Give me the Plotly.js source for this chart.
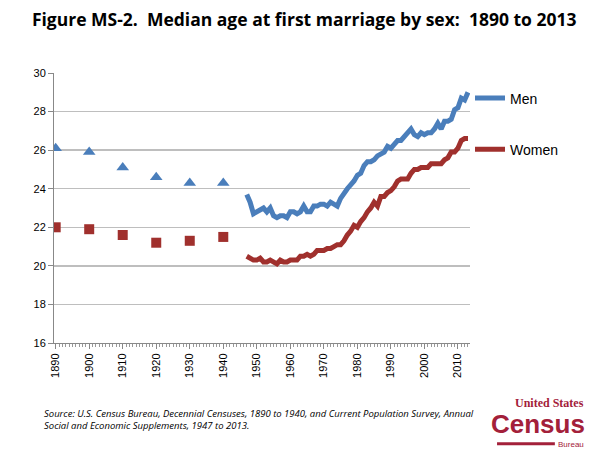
<!DOCTYPE html>
<html>
<head>
<meta charset="utf-8">
<script src="https://cdn.plot.ly/plotly-3.0.1.min.js"></script>
<style>
html,body{margin:0;padding:0;background:#fff;}
#chart{width:600px;height:451px;}
</style>
</head>
<body>
<div id="chart"></div>
<script>
// Decennial census points
const censusYears = [1890, 1900, 1910, 1920, 1930, 1940];
const censusMen   = [26.1, 25.9, 25.1, 24.6, 24.3, 24.3];
const censusWomen = [22.0, 21.9, 21.6, 21.2, 21.3, 21.5];

// CPS annual series 1947-2013
const cpsYears = [1947,1948,1949,1950,1951,1952,1953,1954,1955,1956,1957,1958,1959,
  1960,1961,1962,1963,1964,1965,1966,1967,1968,1969,1970,1971,1972,1973,1974,1975,1976,
  1977,1978,1979,1980,1981,1982,1983,1984,1985,1986,1987,1988,1989,1990,1991,1992,1993,
  1994,1995,1996,1997,1998,1999,2000,2001,2002,2003,2004,2005,2006,2007,2008,2009,2010,
  2011,2012,2013];
const cpsMen = [23.7,23.3,22.7,22.8,22.9,23.0,22.8,23.0,22.6,22.5,22.6,22.6,22.5,
  22.8,22.8,22.7,22.8,23.1,22.8,22.8,23.1,23.1,23.2,23.2,23.1,23.3,23.2,23.1,23.5,23.8,
  24.0,24.2,24.4,24.7,24.8,25.2,25.4,25.4,25.5,25.7,25.8,25.9,26.2,26.1,26.3,26.5,26.5,
  26.7,26.9,27.1,26.8,26.7,26.9,26.8,26.9,26.9,27.1,27.4,27.1,27.5,27.5,27.6,28.1,28.2,
  28.7,28.6,29.0];
const cpsWomen = [20.5,20.4,20.3,20.3,20.4,20.2,20.2,20.3,20.2,20.1,20.3,20.2,20.2,
  20.3,20.3,20.3,20.5,20.5,20.6,20.5,20.6,20.8,20.8,20.8,20.9,20.9,21.0,21.1,21.1,21.3,
  21.6,21.8,22.1,22.0,22.3,22.5,22.8,23.0,23.3,23.1,23.6,23.6,23.8,23.9,24.1,24.4,24.5,
  24.5,24.5,24.8,25.0,25.0,25.1,25.1,25.1,25.3,25.3,25.3,25.3,25.5,25.6,25.9,25.9,26.1,
  26.5,26.6,26.6];

const xTickVals = [1890,1900,1910,1920,1930,1940,1950,1960,1970,1980,1990,2000,2010];
const xTickText = xTickVals.map(String);
const yTickVals = [16,18,20,22,24,26,28,30];

const blue = '#4A7EBB';
const red = '#A0302D';
const censusRed = '#A3203A';

const traces = [
  {x: cpsYears, y: cpsMen, type: 'scatter', mode: 'lines', name: 'Men',
   line: {color: blue, width: 5}, legendgroup: 'm'},
  {x: cpsYears, y: cpsWomen, type: 'scatter', mode: 'lines', name: 'Women',
   line: {color: red, width: 5}, legendgroup: 'w'},
  {x: censusYears, y: censusMen, type: 'scatter', mode: 'markers', showlegend: false,
   marker: {symbol: 'triangle-up', color: blue, size: 11}},
  {x: censusYears, y: censusWomen, type: 'scatter', mode: 'markers', showlegend: false,
   marker: {symbol: 'square', color: red, size: 10}}
];

const layout = {
  width: 600, height: 451,
  margin: {l: 54, r: 130, t: 73, b: 108},
  paper_bgcolor: '#fff', plot_bgcolor: '#fff',
  font: {family: 'Liberation Sans, Arial, sans-serif', color: '#000'},
  title: {text: '<b>Figure MS-2.  Median age at first marriage by sex:  1890 to 2013</b>',
          font: {family: 'Open Sans, sans-serif', size: 17.5, color: '#000'},
          x: 0.507, xref: 'container', xanchor: 'center', y: 0.955, yanchor: 'middle'},
  xaxis: {range: [1889.5, 2013.6], tickvals: xTickVals, ticktext: xTickText,
          tickangle: -90, ticks: 'outside', ticklen: 5, tickcolor: '#888',
          showgrid: false, showline: true, linecolor: '#888', linewidth: 1,
          zeroline: false, tickfont: {size: 11, color: '#000'},
          minor: {dtick: 1, tick0: 1890, ticks: 'outside', ticklen: 3, tickcolor: '#999', showgrid: false}},
  yaxis: {range: [16, 30], tickvals: yTickVals, ticks: 'outside', ticklen: 5, tickcolor: '#888',
          showgrid: true, gridcolor: '#BEBEBE', gridwidth: 1.5, showline: true,
          linecolor: '#888', linewidth: 1, zeroline: false, tickfont: {size: 11, color: '#000'}},
  showlegend: true,
  legend: {x: 1.0, xanchor: 'left', y: 0.965, yanchor: 'top', tracegroupgap: 30,
           font: {size: 14, color: '#000'}, bgcolor: 'rgba(0,0,0,0)', itemwidth: 30},
  annotations: [
    {xref: 'paper', yref: 'paper', x: -0.028, y: -0.228, xanchor: 'left', yanchor: 'top',
     align: 'left', showarrow: false,
     text: '<i>Source: U.S. Census Bureau, Decennial Censuses, 1890 to 1940, and Current Population Survey, Annual<br>Social and Economic Supplements, 1947 to 2013.</i>',
     font: {family: 'Open Sans, sans-serif', size: 9.5, color: '#000'}},
    {xref: 'paper', yref: 'paper', x: 1.28, y: -0.19, xanchor: 'right', yanchor: 'top', showarrow: false,
     text: '<b>United States</b>', font: {family: 'Liberation Serif, serif', size: 12, color: censusRed}},
    {xref: 'paper', yref: 'paper', x: 1.282, y: -0.238, xanchor: 'right', yanchor: 'top', showarrow: false,
     text: '<b>Census</b>', font: {family: 'Liberation Sans, sans-serif', size: 26, color: censusRed}},
    {xref: 'paper', yref: 'paper', x: 1.278, y: -0.352, xanchor: 'right', yanchor: 'top', showarrow: false,
     text: 'Bureau', font: {family: 'Liberation Sans, sans-serif', size: 8, color: censusRed}}
  ],
  shapes: [
    {type: 'line', xref: 'paper', yref: 'paper', x0: 1.065, x1: 1.204, y0: -0.373, y1: -0.373,
     line: {color: censusRed, width: 3}}
  ]
};

Plotly.newPlot('chart', traces, layout, {displayModeBar: false, staticPlot: true});
</script>
</body>
</html>
